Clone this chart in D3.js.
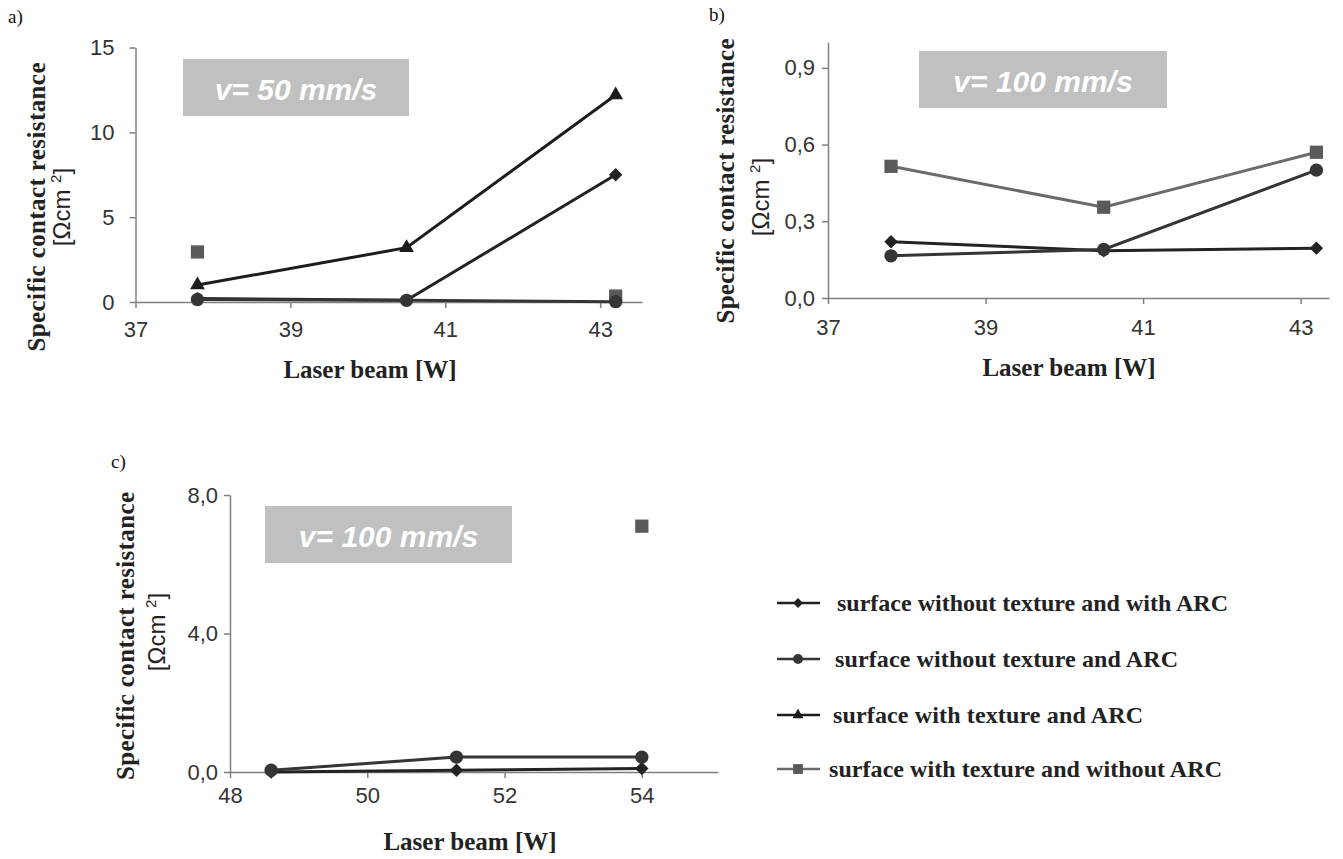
<!DOCTYPE html>
<html>
<head>
<meta charset="utf-8">
<script src="https://cdn.jsdelivr.net/npm/d3@7"></script>
<style>
  body { margin: 0; background: #fff; }
  svg { display: block; }
</style>
</head>
<body>
<svg id="chart"></svg>
<script>
// Data
const seriesNames = [
  "surface without texture and with ARC",
  "surface without texture and ARC",
  "surface with texture and ARC",
  "surface with texture and without ARC"
];
const seriesKeys = ["diamond", "circle", "triangle", "square"];

const powerAB = [37.8, 40.5, 43.2];
const powerC = [48.6, 51.3, 54.0];

// panel a) v = 50 mm/s
const aDiamond = [0.2, 0.1, 7.5];
const aCircle = [0.15, 0.1, 0.02];
const aTriangle = [1.0, 3.2, 12.2];
const aSquare = [2.95, null, 0.35];

// panel b) v = 100 mm/s
const bDiamond = [0.22, 0.185, 0.195];
const bCircle = [0.165, 0.19, 0.5];
const bTriangle = [null, null, null];
const bSquare = [0.515, 0.355, 0.57];

// panel c) v = 100 mm/s
const cDiamond = [0.0, 0.05, 0.1];
const cCircle = [0.05, 0.43, 0.43];
const cTriangle = [null, null, null];
const cSquare = [null, null, 7.1];

const xTicksAB = [37, 39, 41, 43];
const xTicksC = [48, 50, 52, 54];
const yTicksA = [0, 5, 10, 15];
const yTicksB = [0, 0.3, 0.6, 0.9];
const yTicksC = [0, 4, 8];

const speedLabels = ["v= 50 mm/s", "v= 100 mm/s", "v= 100 mm/s"];
const panelLetters = ["a)", "b)", "c)"];

const SERIF = "'Liberation Serif', 'Times New Roman', serif";
const SANS = "'Liberation Sans', Arial, sans-serif";

let width = 1343,
  height = 859;

let svg = d3.select("#chart").attr("width", width).attr("height", height);

const style = {
  diamond: { stroke: "#232323", fill: "#232323" },
  circle: { stroke: "#353535", fill: "#353535" },
  triangle: { stroke: "#1c1c1c", fill: "#1c1c1c" },
  square: { stroke: "#6b6b6b", fill: "#5a5a5a" }
};

function symbolPath(key, big) {
  let k = big ? 1 : 0.55;
  let type = {
    diamond: d3.symbolSquare,
    circle: d3.symbolCircle,
    triangle: d3.symbolTriangle,
    square: d3.symbolSquare
  }[key];
  let size = { diamond: 90, circle: 140, triangle: 95, square: 175 }[key] * k;
  return d3.symbol().type(type).size(size)();
}

const commaFmt = (d) => d3.format(".1f")(d).replace(".", ",");

const panels = [
  {
    letter: panelLetters[0], letterPos: [8, 23],
    xs: powerAB, xDomain: [37, 43.54], xRange: [135.5, 642],
    yDomain: [0, 15], yRange: [302, 47.5],
    xTicks: xTicksAB, yTicks: yTicksA, yFmt: d3.format("d"),
    xPad: 13, yPad: 15,
    series: { diamond: aDiamond, circle: aCircle, triangle: aTriangle, square: aSquare },
    box: [183, 59, 226, 57], speed: speedLabels[0],
    ylab: { x1: 45, x2: 70, cy: 207, len1: 289, len2: 87 },
    xlab: { cx: 370, y: 378 }
  },
  {
    letter: panelLetters[1], letterPos: [709, 21],
    xs: powerAB, xDomain: [37, 43.36], xRange: [828, 1329],
    yDomain: [0, 1.0], yRange: [298, 42.3],
    xTicks: xTicksAB, yTicks: yTicksB, yFmt: commaFmt,
    xPad: 15, yPad: 7,
    series: { diamond: bDiamond, circle: bCircle, triangle: bTriangle, square: bSquare },
    box: [919, 51, 248, 57], speed: speedLabels[1],
    ylab: { x1: 734, x2: 769, cy: 181, len1: 285, len2: 81, cy2: 197 },
    xlab: { cx: 1069, y: 376 }
  },
  {
    letter: panelLetters[2], letterPos: [111, 468],
    xs: powerC, xDomain: [48, 55.11], xRange: [230, 718],
    yDomain: [0, 8], yRange: [772, 495],
    xTicks: xTicksC, yTicks: yTicksC, yFmt: commaFmt,
    xPad: 9, yPad: 6,
    series: { diamond: cDiamond, circle: cCircle, triangle: cTriangle, square: cSquare },
    box: [265, 506, 247, 57], speed: speedLabels[2],
    ylab: { x1: 134, x2: 165, cy: 636, len1: 288, len2: 83, cy2: 632 },
    xlab: { cx: 470, y: 850 }
  }
];

const drawOrder = ["square", "diamond", "circle", "triangle"];

panels.forEach((p) => {
  let g = svg.append("g");
  let x = d3.scaleLinear().domain(p.xDomain).range(p.xRange);
  let y = d3.scaleLinear().domain(p.yDomain).range(p.yRange);

  // panel letter
  g.append("text")
    .attr("x", p.letterPos[0])
    .attr("y", p.letterPos[1])
    .attr("font-family", SERIF)
    .attr("font-size", 19)
    .attr("fill", "#111")
    .text(p.letter);

  // speed box
  g.append("rect")
    .attr("x", p.box[0])
    .attr("y", p.box[1])
    .attr("width", p.box[2])
    .attr("height", p.box[3])
    .attr("fill", "#c0c0c0");
  g.append("text")
    .attr("x", p.box[0] + p.box[2] / 2)
    .attr("y", p.box[1] + 41)
    .attr("text-anchor", "middle")
    .attr("font-family", SANS)
    .attr("font-weight", "bold")
    .attr("font-style", "italic")
    .attr("font-size", 30)
    .attr("fill", "#fff")
    .text(p.speed);

  // axes
  let xAxis = g.append("g")
    .attr("transform", `translate(0,${p.yRange[0]})`)
    .call(d3.axisBottom(x).tickValues(p.xTicks).tickFormat(d3.format("d"))
      .tickSizeInner(6).tickSizeOuter(0).tickPadding(p.xPad));
  let yAxis = g.append("g")
    .attr("transform", `translate(${p.xRange[0]},0)`)
    .call(d3.axisLeft(y).tickValues(p.yTicks).tickFormat(p.yFmt)
      .tickSizeInner(6).tickSizeOuter(0).tickPadding(p.yPad));
  [xAxis, yAxis].forEach((ax) => {
    ax.select(".domain").attr("stroke", "#808080").attr("stroke-width", 1.5);
    ax.selectAll(".tick line").attr("stroke", "#808080").attr("stroke-width", 1.5);
    ax.selectAll(".tick text")
      .attr("font-family", SANS)
      .attr("font-size", 22)
      .attr("fill", "#333");
  });

  // series lines and markers
  drawOrder.forEach((key) => {
    let vals = p.series[key];
    let pts = p.xs.map((xv, i) => ({ x: xv, y: vals[i] }));
    let line = d3.line()
      .defined((d) => d.y !== null)
      .x((d) => x(d.x))
      .y((d) => y(d.y));
    g.append("path")
      .datum(pts)
      .attr("d", line)
      .attr("fill", "none")
      .attr("stroke", style[key].stroke)
      .attr("stroke-width", 3);
    g.append("g")
      .selectAll("path")
      .data(pts.filter((d) => d.y !== null))
      .enter()
      .append("path")
      .attr("d", symbolPath(key, true))
      .attr("transform", (d) =>
        `translate(${x(d.x)},${y(d.y)})` + (key === "diamond" ? " rotate(45)" : ""))
      .attr("fill", style[key].fill);
  });

  // y label (two lines)
  let cy2 = p.ylab.cy2 || p.ylab.cy;
  g.append("text")
    .attr("transform", `translate(${p.ylab.x1},${p.ylab.cy}) rotate(-90)`)
    .attr("text-anchor", "middle")
    .attr("font-family", SERIF)
    .attr("font-weight", "bold")
    .attr("font-size", 25)
    .attr("fill", "#222")
    .attr("textLength", p.ylab.len1)
    .attr("lengthAdjust", "spacing")
    .text("Specific contact resistance");
  let t2 = g.append("text")
    .attr("transform", `translate(${p.ylab.x2},${cy2}) rotate(-90)`)
    .attr("text-anchor", "middle")
    .attr("font-family", SANS)
    .attr("font-size", 24)
    .attr("fill", "#222");
  t2.append("tspan").text("[Ωcm ");
  t2.append("tspan").attr("font-size", 15).attr("dy", -9).text("2");
  t2.append("tspan").attr("dy", 9).text("]");

  // x label
  g.append("text")
    .attr("x", p.xlab.cx)
    .attr("y", p.xlab.y)
    .attr("text-anchor", "middle")
    .attr("font-family", SERIF)
    .attr("font-weight", "bold")
    .attr("font-size", 25)
    .attr("fill", "#222")
    .text("Laser beam [W]");
});

// legend
const legendRows = [603, 659, 715, 769];
const legendTextX = [837, 835, 833, 829];
const legendLen = [391, 343, 310, 393];
let legend = svg.append("g");
seriesKeys.forEach((key, i) => {
  let ly = legendRows[i];
  legend.append("line")
    .attr("x1", 777).attr("x2", 820)
    .attr("y1", ly).attr("y2", ly)
    .attr("stroke", style[key].stroke)
    .attr("stroke-width", 2.5);
  legend.append("path")
    .attr("d", symbolPath(key, false))
    .attr("transform", `translate(798,${ly})` + (key === "diamond" ? " rotate(45)" : ""))
    .attr("fill", style[key].fill);
  legend.append("text")
    .attr("x", legendTextX[i])
    .attr("y", ly + 8)
    .attr("font-family", SERIF)
    .attr("font-weight", "bold")
    .attr("font-size", 24)
    .attr("fill", "#222")
    .attr("textLength", legendLen[i])
    .attr("lengthAdjust", "spacing")
    .text(seriesNames[i]);
});
</script>
</body>
</html>
